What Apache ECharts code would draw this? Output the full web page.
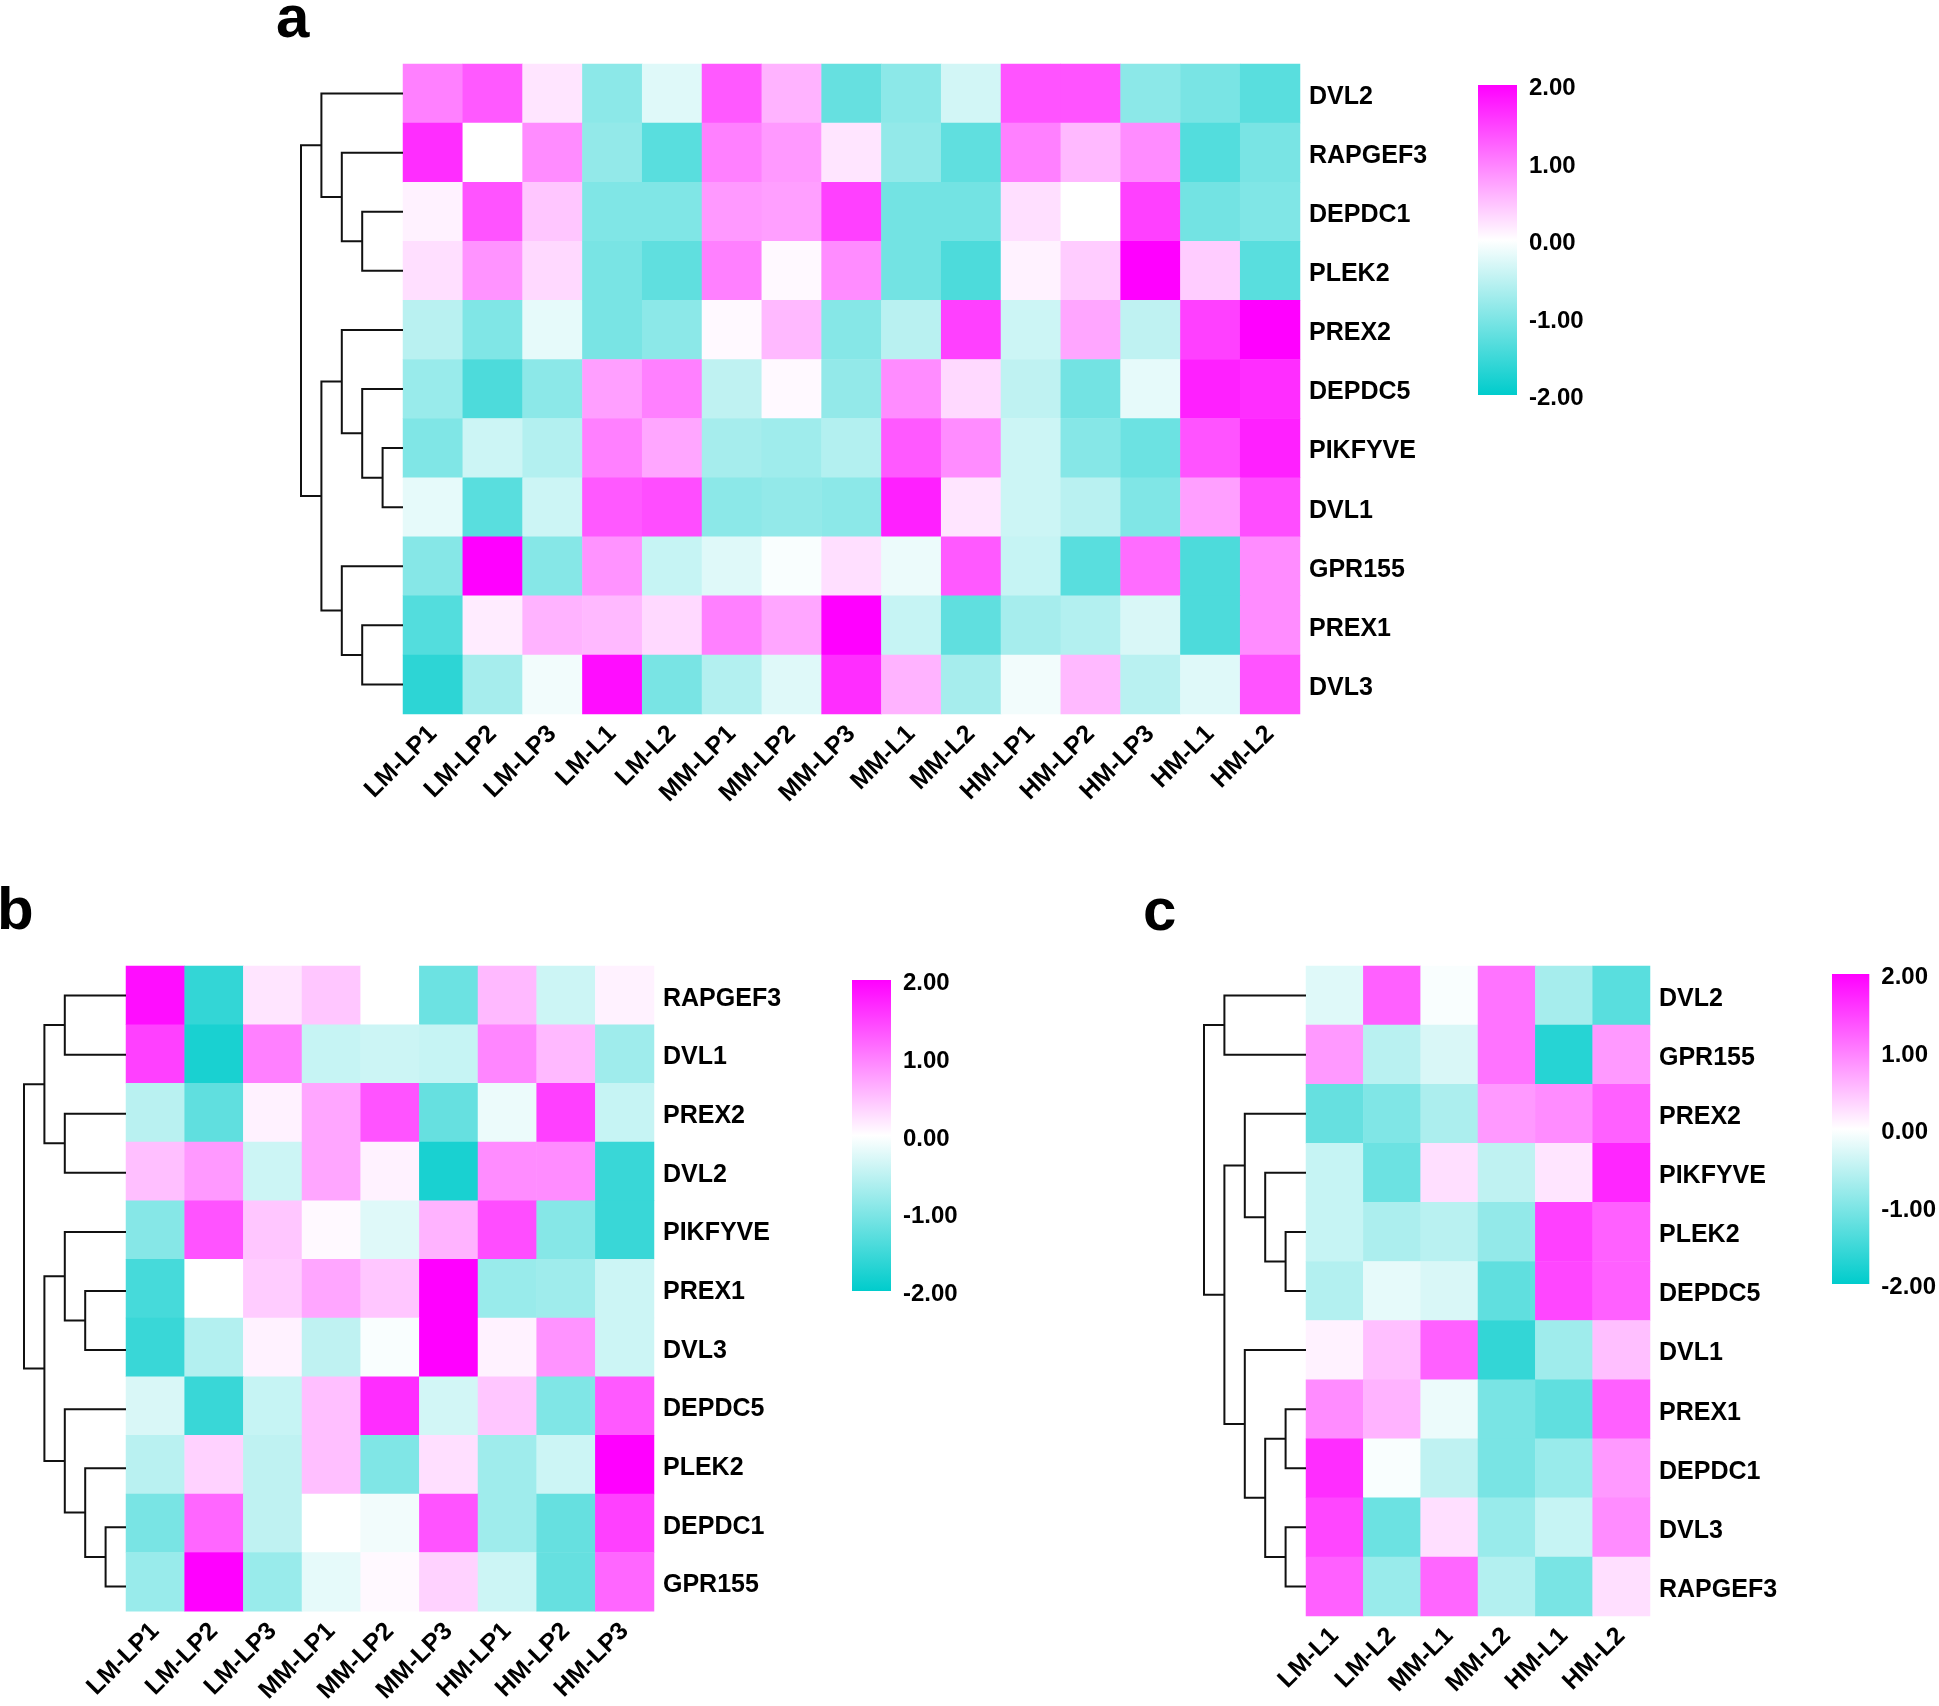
<!DOCTYPE html>
<html><head><meta charset="utf-8">
<script src="https://cdn.jsdelivr.net/npm/echarts@6/dist/echarts.min.js"></script>
<style>html,body{margin:0;padding:0;background:#fff}#chart{width:1939px;height:1706px}</style>
</head><body><div id="chart"></div>
<script>
// ---------- DATA ----------
const genesA = ['DVL2','RAPGEF3','DEPDC1','PLEK2','PREX2','DEPDC5','PIKFYVE','DVL1','GPR155','PREX1','DVL3'];
const samplesA = ['LM-LP1','LM-LP2','LM-LP3','LM-L1','LM-L2','MM-LP1','MM-LP2','MM-LP3','MM-L1','MM-L2','HM-LP1','HM-LP2','HM-LP3','HM-L1','HM-L2'];
const valuesA = [
  [1.0, 1.3, 0.2, -0.9, -0.25, 1.3, 0.6, -1.2, -0.9, -0.35, 1.35, 1.35, -0.9, -1.05, -1.3],
  [1.65, 0.0, 0.9, -0.85, -1.3, 1.0, 0.8, 0.2, -0.85, -1.25, 1.0, 0.55, 0.9, -1.35, -1.05],
  [0.1, 1.35, 0.45, -1.0, -1.0, 0.8, 0.75, 1.5, -1.1, -1.1, 0.25, 0.0, 1.5, -1.1, -1.0],
  [0.25, 0.85, 0.3, -1.05, -1.25, 1.0, 0.05, 0.9, -1.1, -1.4, 0.1, 0.4, 2.0, 0.4, -1.3],
  [-0.55, -1.0, -0.2, -1.05, -0.9, 0.05, 0.55, -0.95, -0.55, 1.5, -0.4, 0.7, -0.5, 1.5, 2.0],
  [-0.8, -1.4, -0.9, 0.75, 1.0, -0.5, 0.05, -0.85, 0.9, 0.3, -0.5, -1.1, -0.2, 1.75, 1.65],
  [-1.0, -0.4, -0.6, 1.0, 0.7, -0.7, -0.75, -0.6, 1.3, 0.9, -0.4, -0.95, -1.15, 1.35, 1.75],
  [-0.2, -1.3, -0.4, 1.3, 1.4, -0.9, -0.85, -0.9, 1.75, 0.2, -0.4, -0.55, -1.0, 0.75, 1.4],
  [-0.95, 2.0, -0.95, 0.85, -0.45, -0.25, -0.05, 0.25, -0.15, 1.3, -0.45, -1.3, 1.15, -1.4, 0.9],
  [-1.35, 0.15, 0.6, 0.55, 0.3, 1.0, 0.7, 2.0, -0.45, -1.25, -0.7, -0.6, -0.3, -1.4, 0.9],
  [-1.65, -0.7, -0.1, 1.9, -1.05, -0.6, -0.25, 1.65, 0.6, -0.7, -0.1, 0.55, -0.55, -0.25, 1.35]
];
// linkage: [childA, childB, height]; index < n = row, index >= n = earlier merge
const linkageA = [[2,3,2],[1,11,3],[0,12,4],[6,7,1],[5,14,2],[4,15,3],[9,10,2],[8,17,3],[16,18,4],[13,19,5]];

const genesB = ['RAPGEF3','DVL1','PREX2','DVL2','PIKFYVE','PREX1','DVL3','DEPDC5','PLEK2','DEPDC1','GPR155'];
const samplesB = ['LM-LP1','LM-LP2','LM-LP3','MM-LP1','MM-LP2','MM-LP3','HM-LP1','HM-LP2','HM-LP3'];
const valuesB = [
  [1.9, -1.6, 0.2, 0.45, 0.0, -1.15, 0.55, -0.4, 0.1],
  [1.5, -1.8, 1.0, -0.45, -0.4, -0.45, 0.95, 0.55, -0.75],
  [-0.55, -1.25, 0.1, 0.7, 1.35, -1.2, -0.15, 1.5, -0.45],
  [0.5, 0.8, -0.4, 0.7, 0.1, -1.8, 0.9, 0.9, -1.55],
  [-0.95, 1.35, 0.45, 0.05, -0.25, 0.6, 1.4, -0.95, -1.55],
  [-1.45, 0.0, 0.4, 0.7, 0.45, 2.0, -0.8, -0.75, -0.4],
  [-1.55, -0.6, 0.1, -0.5, -0.05, 2.0, 0.1, 0.85, -0.4],
  [-0.3, -1.55, -0.45, 0.5, 1.65, -0.35, 0.45, -1.0, 1.3],
  [-0.55, 0.35, -0.5, 0.5, -1.0, 0.25, -0.75, -0.4, 2.0],
  [-1.05, 1.2, -0.5, 0.0, -0.1, 1.35, -0.75, -1.2, 1.5],
  [-0.8, 2.0, -0.8, -0.2, 0.05, 0.35, -0.4, -1.2, 1.2]
];
const linkageB = [[0,1,3],[2,3,3],[11,12,4],[5,6,2],[4,14,3],[9,10,1],[8,16,2],[7,17,3],[15,18,4],[13,19,5]];

const genesC = ['DVL2','GPR155','PREX2','PIKFYVE','PLEK2','DEPDC5','DVL1','PREX1','DEPDC1','DVL3','RAPGEF3'];
const samplesC = ['LM-L1','LM-L2','MM-L1','MM-L2','HM-L1','HM-L2'];
const valuesC = [
  [-0.25, 1.25, -0.05, 1.1, -0.7, -1.3],
  [0.8, -0.55, -0.3, 1.1, -1.7, 0.8],
  [-1.2, -1.0, -0.65, 0.8, 0.9, 1.25],
  [-0.45, -1.15, 0.25, -0.5, 0.2, 1.7],
  [-0.45, -0.65, -0.55, -0.85, 1.5, 1.25],
  [-0.6, -0.2, -0.3, -1.25, 1.45, 1.25],
  [0.1, 0.5, 1.25, -1.6, -0.75, 0.5],
  [0.9, 0.6, -0.15, -1.05, -1.25, 1.25],
  [1.65, -0.05, -0.5, -1.05, -0.8, 0.8],
  [1.45, -1.15, 0.25, -0.8, -0.45, 0.9],
  [1.25, -0.8, 1.2, -0.6, -1.05, 0.25]
];
const linkageC = [[0,1,4],[4,5,1],[3,12,2],[2,13,3],[7,8,1],[9,10,1],[15,16,2],[6,17,3],[14,18,4],[11,19,5]];

const colorRange = [-2, 2];
const colorTickStep = 1;
const panelLetters = ['a','b','c'];

// ---------- LAYOUT / STYLE ----------
const FONT = '"Liberation Sans", Arial, Helvetica, sans-serif';
const COLORS = ['#00CCCC', '#FFFFFF', '#FF00FF'];
const panels = [
  {genes: genesA, samples: samplesA, values: valuesA, link: linkageA,
   heat: {left: 403, top: 64, width: 897, height: 650},
   dendroLeft: 301,
   cbar: {left: 1478, top: 85, width: 39, height: 310}},
  {genes: genesB, samples: samplesB, values: valuesB, link: linkageB,
   heat: {left: 126, top: 966, width: 528, height: 650},
   dendroLeft: 24,
   cbar: {left: 852, top: 980, width: 39, height: 311}},
  {genes: genesC, samples: samplesC, values: valuesC, link: linkageC,
   heat: {left: 1306, top: 966, width: 344, height: 650},
   dendroLeft: 1204,
   cbar: {left: 1832, top: 974, width: 39, height: 310}}
];
const letterPos = [{x: 276, y: 20}, {x: -3, y: 912}, {x: 1143, y: 913}];

function dendroData(link, n) {
  const pos = [], hts = [];
  for (let i = 0; i < n; i++) { pos[i] = i; hts[i] = 0; }
  return link.map((m, k) => {
    const [a, b, h] = m;
    pos[n + k] = (pos[a] + pos[b]) / 2; hts[n + k] = h;
    return [h, pos[a], pos[b], hts[a], hts[b]];
  });
}

const grid = [], xAxis = [], yAxis = [], series = [], visualMap = [], graphic = [];
const labelStyle = {fontFamily: FONT, fontWeight: 'bold', fontSize: 25, color: '#000'};
const cbStyle = {fontFamily: FONT, fontWeight: 'bold', fontSize: 24, color: '#000'};
const shiftedRich = {t: {fontFamily: FONT, fontWeight: 'bold', fontSize: 25, color: '#000', padding: [7, 0, 0, 0]}};
const shiftedRichCb = {t: {fontFamily: FONT, fontWeight: 'bold', fontSize: 24, color: '#000', padding: [7, 0, 0, 0]}};

panels.forEach((p, pi) => {
  const n = p.genes.length;
  const maxH = Math.max(...p.link.map(m => m[2]));
  const gHeat = grid.length;
  grid.push({left: p.heat.left, top: p.heat.top, width: p.heat.width, height: p.heat.height, containLabel: false});
  grid.push({left: p.dendroLeft, top: p.heat.top, width: p.heat.left - p.dendroLeft, height: p.heat.height});
  grid.push({left: p.cbar.left, top: p.cbar.top, width: p.cbar.width, height: p.cbar.height});

  // heatmap axes
  xAxis.push({type: 'category', gridIndex: gHeat, data: p.samples, position: 'bottom',
    axisLine: {show: false}, axisTick: {show: false}, splitLine: {show: false}, splitArea: {show: false},
    axisLabel: Object.assign({rotate: 45, interval: 0, margin: 16}, labelStyle)});
  yAxis.push({type: 'category', gridIndex: gHeat, data: p.genes, inverse: true, position: 'right',
    axisLine: {show: false}, axisTick: {show: false}, splitLine: {show: false}, splitArea: {show: false},
    axisLabel: Object.assign({interval: 0, margin: 9, formatter: v => '{t|' + v + '}', rich: shiftedRich}, labelStyle)});
  // dendrogram axes
  xAxis.push({type: 'value', gridIndex: gHeat + 1, min: 0, max: maxH, inverse: true, show: false});
  yAxis.push({type: 'value', gridIndex: gHeat + 1, min: -0.5, max: n - 0.5, inverse: true, show: false});
  // colorbar axes
  xAxis.push({type: 'value', gridIndex: gHeat + 2, min: 0, max: 1, show: false});
  yAxis.push({type: 'value', gridIndex: gHeat + 2, min: colorRange[0], max: colorRange[1], interval: colorTickStep,
    position: 'right', axisLine: {show: false}, axisTick: {show: false}, splitLine: {show: false},
    axisLabel: Object.assign({margin: 12, showMinLabel: true, showMaxLabel: true, rich: shiftedRichCb,
      formatter: v => '{t|' + v.toFixed(2) + '}'}, cbStyle)});

  const heatData = [];
  p.values.forEach((row, r) => row.forEach((v, c) => heatData.push([c, r, v])));
  const sHeat = series.length;
  series.push({type: 'heatmap', xAxisIndex: gHeat, yAxisIndex: gHeat, data: heatData,
    itemStyle: {borderWidth: 0}, emphasis: {disabled: true}, progressive: 0});
  visualMap.push({type: 'continuous', show: false, seriesIndex: sHeat, dimension: 2,
    min: colorRange[0], max: colorRange[1], inRange: {color: COLORS}});

  series.push({type: 'custom', xAxisIndex: gHeat + 1, yAxisIndex: gHeat + 1,
    data: dendroData(p.link, n), encode: {x: [0, 3, 4], y: [1, 2]}, silent: true, clip: false,
    renderItem: (params, api) => {
      const h = api.value(0), ya = api.value(1), yb = api.value(2), ha = api.value(3), hb = api.value(4);
      return {type: 'polyline', shape: {points: [api.coord([ha, ya]), api.coord([h, ya]), api.coord([h, yb]), api.coord([hb, yb])]},
        style: {stroke: '#111', lineWidth: 2, fill: null}};
    }});

  series.push({type: 'custom', xAxisIndex: gHeat + 2, yAxisIndex: gHeat + 2, silent: true,
    data: [[colorRange[0], colorRange[1]]], encode: {y: [0, 1]},
    renderItem: (params, api) => {
      const tl = api.coord([0, api.value(1)]);
      const br = api.coord([1, api.value(0)]);
      return {type: 'rect', shape: {x: tl[0], y: tl[1], width: br[0] - tl[0], height: br[1] - tl[1]},
        style: {fill: new echarts.graphic.LinearGradient(0, 0, 0, 1, [
          {offset: 0, color: COLORS[2]}, {offset: 0.5, color: COLORS[1]}, {offset: 1, color: COLORS[0]}])}};
    }});

  graphic.push({type: 'text', left: letterPos[pi].x, top: letterPos[pi].y - 30,
    style: {text: panelLetters[pi], font: 'bold 60px ' + FONT, fill: '#000'}});
});

const chart = echarts.init(document.getElementById('chart'), null, {renderer: 'canvas'});
chart.setOption({animation: false, backgroundColor: '#fff', grid, xAxis, yAxis, series, visualMap, graphic});
</script></body></html>
